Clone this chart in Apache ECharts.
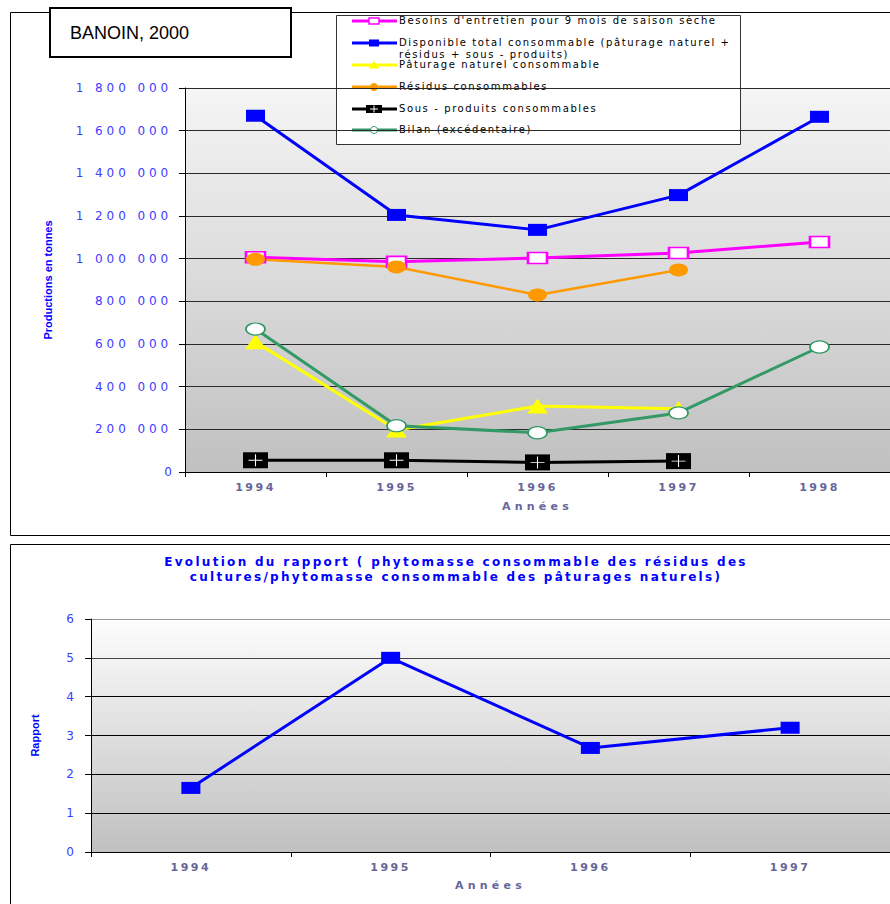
<!DOCTYPE html>
<html>
<head>
<meta charset="utf-8">
<script src="https://cdn.jsdelivr.net/npm/echarts@6/dist/echarts.min.js"></script>
<style>
  html, body { margin: 0; padding: 0; background: #fff; }
  #chart { width: 890px; height: 904px; overflow: hidden; }
</style>
</head>
<body>
<div id="chart"></div>
<script>
// ---- Data ----------------------------------------------------------------
const years = ['1994', '1995', '1996', '1997', '1998'];

const besoins      = [1007000,  985000, 1003000, 1027000, 1078000];
const disponible   = [1670000, 1205000, 1135000, 1298000, 1665000];
const paturage     = [ 610000,  197000,  309000,  297000,    null];
const residus      = [ 997000,  961000,  830000,  947000,    null];
const sousProduits = [  55000,   55000,   45000,   51000,    null];
const bilan        = [ 670000,  217000,  184000,  277000,  586000];

const ratioYears = ['1994', '1995', '1996', '1997'];
const ratio      = [1.65, 5.0, 2.68, 3.2];

const topTicks    = [0, 1800000, 200000];   // min, max, step
const bottomTicks = [0, 6, 1];

const seriesNames = [
  "Besoins d'entretien pour 9 mois de saison sèche",
  'Disponible total consommable (pâturage naturel + résidus + sous - produits)',
  'Pâturage naturel consommable',
  'Résidus consommables',
  'Sous - produits consommables',
  'Bilan (excédentaire)'
];
const legendLabels = [
  ["Besoins d'entretien pour 9 mois de saison sèche"],
  ['Disponible total consommable (pâturage naturel +', 'résidus + sous - produits)'],
  ['Pâturage naturel consommable'],
  ['Résidus consommables'],
  ['Sous - produits consommables'],
  ['Bilan (excédentaire)']
];
const seriesColors = ['#ff00ff', '#0000ff', '#ffff00', '#ff9900', '#000000', '#339966'];

const ratioTitle = [
  'Evolution du rapport ( phytomasse consommable des résidus des',
  'cultures/phytomasse consommable des pâturages naturels)'
];

// ---- Styling helpers ------------------------------------------------------
const SPACED = 'DejaVu Sans';
const PLAIN = 'Liberation Sans';
const AXIS_BLUE = '#3c3cff';
const LABEL_GREY = '#666699';

function spaced(v) {
  return String(v).replace(/\B(?=(\d{3})+(?!\d))/g, ' ');
}

const gradient = (top) => ({
  type: 'linear', x: 0, y: 0, x2: 0, y2: 1,
  colorStops: [{ offset: 0, color: top }, { offset: 1, color: '#c0c0c0' }]
});

const [s0, s1, s2, s3, s4, s5] = [besoins, disponible, paturage, residus, sousProduits, bilan];

// ---- Legend drawn as graphic elements -----------------------------------
const legendRowY = [21, 43, 65, 87, 109, 130];
function legendMarker(i, cy) {
  const cx = 374, c = seriesColors[i];
  switch (i) {
    case 0: return [{ type: 'rect', shape: { x: cx - 5, y: cy - 3, width: 10, height: 6 },
                      style: { fill: '#fff', stroke: c, lineWidth: 1.5 } }];
    case 1: return [{ type: 'rect', shape: { x: cx - 5, y: cy - 3.5, width: 10, height: 7 },
                      style: { fill: c } }];
    case 2: return [{ type: 'polygon', shape: { points: [[cx, cy - 4], [cx + 5.5, cy + 3.5], [cx - 5.5, cy + 3.5]] },
                      style: { fill: c } }];
    case 3: return [{ type: 'circle', shape: { cx: cx, cy: cy, r: 4 }, style: { fill: c } }];
    case 4: return [
      { type: 'rect', shape: { x: cx - 8, y: cy - 4, width: 16, height: 8 }, style: { fill: '#000' } },
      { type: 'line', shape: { x1: cx - 4, y1: cy, x2: cx + 4, y2: cy }, style: { stroke: '#fff', lineWidth: 1 } },
      { type: 'line', shape: { x1: cx, y1: cy - 3.5, x2: cx, y2: cy + 3.5 }, style: { stroke: '#fff', lineWidth: 1 } }
    ];
    default: return [{ type: 'circle', shape: { cx: cx, cy: cy, r: 3.5 },
                       style: { fill: '#fff', stroke: c, lineWidth: 1 } }];
  }
}
const legendElements = [{
  type: 'rect', shape: { x: 336.5, y: 15.5, width: 404, height: 129 },
  style: { fill: '#fff', stroke: '#333', lineWidth: 1 }
}];
legendLabels.forEach((lines, i) => {
  const cy = legendRowY[i];
  legendElements.push({ type: 'line', shape: { x1: 352, y1: cy, x2: 397, y2: cy },
                        style: { stroke: seriesColors[i], lineWidth: 3 } });
  legendElements.push(...legendMarker(i, cy));
  legendElements.push({
    type: 'text', x: 399, y: cy - 6,
    style: { text: lines.join('\n'), fill: '#000', fontFamily: SPACED, fontSize: 10,
             lineHeight: 11.5, verticalAlign: 'top', align: 'left' }
  });
});

// ---- Chart ----------------------------------------------------------------
const dom = document.getElementById('chart');
const chart = echarts.init(dom, null, { renderer: 'svg', width: 890, height: 904 });

const lineSeries = (name, data, color, extra) => Object.assign({
  type: 'line', name: name, data: data, xAxisIndex: 0, yAxisIndex: 0,
  showSymbol: true, connectNulls: false, animation: false,
  lineStyle: { color: color, width: 3 },
  itemStyle: { color: color }
}, extra);

const option = {
  animation: false,
  backgroundColor: '#fff',
  grid: [
    { left: 185, top: 88, width: 718, height: 384, show: true,
      backgroundColor: gradient('#f5f5f5'), borderWidth: 0 },
    { left: 91, top: 619, width: 799, height: 233, show: true,
      backgroundColor: gradient('#fdfdfd'), borderWidth: 0 }
  ],
  xAxis: [
    { type: 'category', gridIndex: 0, data: years, boundaryGap: true,
      axisLine: { lineStyle: { color: '#000', width: 1 } },
      axisTick: { show: true, length: 5, lineStyle: { color: '#000' } },
      axisLabel: { margin: 10, color: LABEL_GREY, fontFamily: SPACED, fontSize: 11, fontWeight: 'bold' },
      name: 'Années', nameLocation: 'middle', nameGap: 29,
      nameTextStyle: { color: LABEL_GREY, fontFamily: SPACED, fontSize: 11, fontWeight: 'bold' } },
    { type: 'category', gridIndex: 1, data: ratioYears, boundaryGap: true,
      axisLine: { lineStyle: { color: '#000', width: 1 } },
      axisTick: { show: true, length: 5, lineStyle: { color: '#000' } },
      axisLabel: { margin: 10, color: LABEL_GREY, fontFamily: SPACED, fontSize: 11, fontWeight: 'bold' },
      name: 'Années', nameLocation: 'middle', nameGap: 28,
      nameTextStyle: { color: LABEL_GREY, fontFamily: SPACED, fontSize: 11, fontWeight: 'bold' } }
  ],
  yAxis: [
    { type: 'value', gridIndex: 0, min: topTicks[0], max: topTicks[1], interval: topTicks[2],
      axisLine: { show: true, lineStyle: { color: '#000', width: 1 } },
      axisTick: { show: true, length: 6, lineStyle: { color: '#000' } },
      axisLabel: { margin: 13, color: AXIS_BLUE, fontFamily: SPACED, fontSize: 12, formatter: spaced },
      splitLine: { show: true, lineStyle: { color: '#2a2a2a', width: 1 } },
      name: 'Productions en tonnes', nameLocation: 'middle', nameGap: 132, nameRotate: 90,
      nameTextStyle: { color: '#0000ff', fontFamily: PLAIN, fontSize: 11, fontWeight: 'bold' } },
    { type: 'value', gridIndex: 1, min: bottomTicks[0], max: bottomTicks[1], interval: bottomTicks[2],
      axisLine: { show: true, lineStyle: { color: '#000', width: 1 } },
      axisTick: { show: true, length: 6, lineStyle: { color: '#000' } },
      axisLabel: { margin: 17, color: AXIS_BLUE, fontFamily: SPACED, fontSize: 12 },
      splitLine: { show: true, lineStyle: { color: ['#000', '#000', '#000', '#000', '#000', '#444', '#999'], width: 1 } },
      name: 'Rapport', nameLocation: 'middle', nameGap: 51, nameRotate: 90,
      nameTextStyle: { color: '#0000ff', fontFamily: PLAIN, fontSize: 11, fontWeight: 'bold' } }
  ],
  series: [
    lineSeries(seriesNames[0], s0, seriesColors[0], {
      symbol: 'rect', symbolSize: [19, 11],
      itemStyle: { color: '#fff', borderColor: seriesColors[0], borderWidth: 2 } }),
    lineSeries(seriesNames[1], s1, seriesColors[1], { symbol: 'rect', symbolSize: [19, 12] }),
    lineSeries(seriesNames[2], s2, seriesColors[2], { symbol: 'triangle', symbolSize: [21, 15] }),
    lineSeries(seriesNames[3], s3, seriesColors[3], { symbol: 'circle', symbolSize: [19, 13],
      lineStyle: { color: seriesColors[3], width: 2.5 } }),
    lineSeries(seriesNames[4], s4, seriesColors[4], { symbol: 'rect', symbolSize: [25, 16] }),
    // white cross drawn on the black "sous-produits" markers
    lineSeries(seriesNames[4] + ' ', s4, '#fff', {
      symbol: 'path://M0,5L10,5M5,0L5,10', symbolSize: [14, 12], silent: true,
      lineStyle: { opacity: 0, width: 0 },
      itemStyle: { color: 'rgba(0,0,0,0)', borderColor: '#fff', borderWidth: 1 } }),
    lineSeries(seriesNames[5], s5, seriesColors[5], {
      symbol: 'circle', symbolSize: [19, 12],
      itemStyle: { color: '#fff', borderColor: seriesColors[5], borderWidth: 1.5 } }),
    { type: 'line', name: 'Rapport', data: ratio, xAxisIndex: 1, yAxisIndex: 1,
      symbol: 'rect', symbolSize: [19, 12],
      lineStyle: { color: '#0000ff', width: 3 }, itemStyle: { color: '#0000ff' } }
  ],
  graphic: [
    // outer frames of the two charts
    { type: 'rect', z: 0, silent: true, shape: { x: 10.5, y: 12.5, width: 900, height: 523 },
      style: { fill: 'none', stroke: '#000', lineWidth: 1 } },
    { type: 'rect', z: 0, silent: true, shape: { x: 10.5, y: 544.5, width: 900, height: 400 },
      style: { fill: 'none', stroke: '#000', lineWidth: 1 } },
    // title box
    { type: 'rect', z: 50, shape: { x: 50, y: 8, width: 241, height: 49 },
      style: { fill: '#fff', stroke: '#000', lineWidth: 2 } },
    { type: 'text', z: 51, x: 70, y: 33,
      style: { text: 'BANOIN, 2000', fill: '#000', fontFamily: PLAIN, fontSize: 18,
               verticalAlign: 'middle', align: 'left' } },
    { type: 'text', z: 51, x: 456, y: 554,
      style: { text: ratioTitle.join('\n'), fill: '#0000ff', fontFamily: SPACED, fontSize: 12,
               fontWeight: 'bold', lineHeight: 15, align: 'center', verticalAlign: 'top' } },
    { type: 'group', z: 100, children: legendElements }
  ]
};

chart.setOption(option);

// Wide character spacing for the spaced-out texts of this chart
const legendLineSet = new Set(legendLabels.flat());
function spacingFor(s, bold) {
  if (s === 'Années') return 4.2;
  if (/^\d[\d ]*$/.test(s)) return s.length === 1 ? 0 : (bold ? 2.5 : 3.9);
  if (legendLineSet.has(s)) return 1.6;
  if (ratioTitle.indexOf(s) >= 0) return 2.3;
  return 0;
}
function applySpacing() {
  dom.querySelectorAll('text').forEach(t => {
    const bold = parseInt(getComputedStyle(t).fontWeight, 10) >= 600;
    const ls = spacingFor(t.textContent, bold);
    if (ls) t.style.letterSpacing = ls + 'px';
  });
}
applySpacing();
chart.on('rendered', applySpacing);
chart.on('finished', applySpacing);
</script>
</body>
</html>
